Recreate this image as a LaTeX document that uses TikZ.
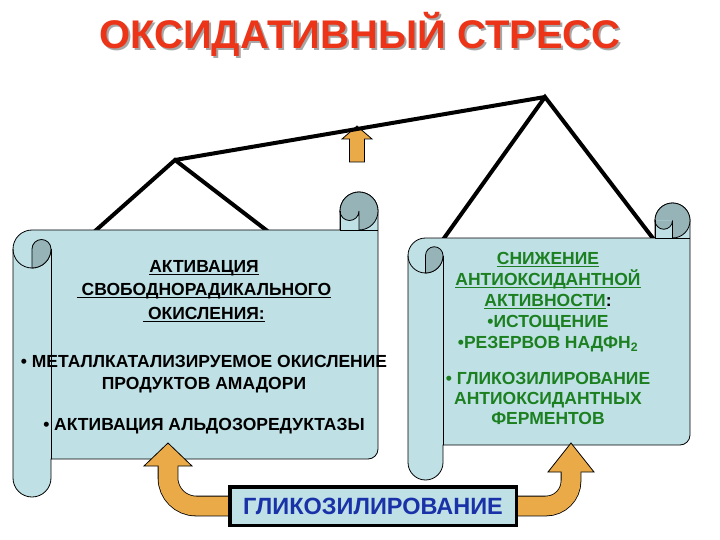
\documentclass[tikz,border=0pt]{standalone}
\usepackage{fontspec}
\setmainfont{Liberation Sans}
\definecolor{scrollblue}{RGB}{191,225,230}
\definecolor{rollgray}{RGB}{150,180,184}
\definecolor{titlered}{RGB}{236,52,24}
\definecolor{leafgreen}{RGB}{28,128,32}
\definecolor{boxblue}{RGB}{26,50,168}
\definecolor{arroworange}{RGB}{234,170,72}
\tikzset{
  hanger/.style={line width=4pt},
  scrollbody/.style={fill=scrollblue,draw=black,line width=0.8pt},
  rollpart/.style={fill=rollgray,draw=black,line width=0.8pt},
  arrowbody/.style={fill=arroworange,draw=black,line width=0.8pt},
  titletext/.style={font=\bfseries\fontsize{40}{48}\selectfont,inner sep=0pt,anchor=base},
  leftlist/.style={font=\bfseries\fontsize{17.5}{23.5}\selectfont,align=center,inner sep=0pt,anchor=north},
  rightlist/.style={font=\bfseries\fontsize{17.5}{21}\selectfont,align=center,inner sep=0pt,anchor=north,text=leafgreen}
}
\newcommand{\ulin}[1]{\setbox0\hbox{#1}\rlap{\rule[-2.6pt]{\wd0}{1.3pt}}\box0}
% l, r, top of sheet, bottom of sheet, bottom of roll, roll radius
\newcommand{\scrollshape}[6]{
  \filldraw[scrollbody] ({#1+#6},#3) -- ({#2-2*#6},#3) -- ({#2-2*#6},{#3-#6})
    arc[start angle=180,end angle=360,radius=#6] -- (#2,{#4-10})
    arc[start angle=0,end angle=90,radius=10] -- ({#1+2*#6},#4) -- ({#1+2*#6},{#5-#6})
    arc[start angle=0,end angle=180,radius=#6] -- (#1,{#3+#6})
    arc[start angle=180,end angle=270,radius=#6] -- cycle;
  \filldraw[rollpart] ({#2-#6},{#3-#6}) circle[radius=#6];
  \fill[scrollblue] ({#2-2*#6},{#3-#6}) rectangle ({#2-#6},#3);
  \fill[rollgray] ({#2-2*#6},{#3-#6}) arc[start angle=180,end angle=0,radius={#6/2}] -- cycle;
  \draw[line width=0.8pt] ({#2-2*#6},{#3-#6}) arc[start angle=180,end angle=0,radius={#6/2}] -- ({#2-#6},#3);
  \draw[line width=0.8pt] ({#2-2*#6},{#3-#6}) -- ({#2-2*#6},#3) -- (#2,#3);
  \draw[line width=0.8pt] (#1,{#3+#6}) arc[start angle=180,end angle=0,radius=#6];
  \filldraw[rollpart] ({#1+#6},{#3+2*#6}) -- ({#1+#6},{#3+#6})
    arc[start angle=180,end angle=360,radius={#6/2}]
    arc[start angle=0,end angle=90,radius=#6] -- cycle;
  \draw[line width=0.8pt] ({#1+2*#6},{#3+#6}) -- ({#1+2*#6},#4);
}
\begin{document}
\begin{tikzpicture}[x=1pt,y=-1pt]
  \useasboundingbox (0,0) rectangle (720,540);
  \node[titletext,text=black!35] (shadow) at (362,51) {ОКСИДАТИВНЫЙ СТРЕСС};
  \node[titletext,text=titlered] (title) at (360,49) {ОКСИДАТИВНЫЙ СТРЕСС};

  \filldraw[arrowbody] (357,126) -- (372,139) -- (364.5,139) -- (364.5,162)
    -- (349.5,162) -- (349.5,139) -- (342,139) -- cycle;

  \coordinate (peakL) at (175,160);
  \coordinate (peakR) at (545,97);
  \coordinate (hangLa) at (94,232);
  \coordinate (hangLb) at (270,233);
  \coordinate (hangRa) at (442,241);
  \coordinate (hangRb) at (655,241);
  \draw[hanger] (hangLa) -- (peakL) -- (hangLb);
  \draw[hanger] (peakL) -- (peakR);
  \draw[hanger] (hangRa) -- (peakR) -- (hangRb);

  \scrollshape{13}{378}{230}{459}{497}{19}
  \scrollshape{408}{690}{238}{445}{480}{17.5}

  \node[leftlist] (radical) at (204,260)
    {\ulin{АКТИВАЦИЯ}\\\ulin{\ СВОБОДНОРАДИКАЛЬНОГО}\\\ulin{\ ОКИСЛЕНИЯ:}};
  \node[leftlist,font=\bfseries\fontsize{17.5}{22}\selectfont] (amadori) at (204,355)
    {• МЕТАЛЛКАТАЛИЗИРУЕМОЕ ОКИСЛЕНИЕ\\ПРОДУКТОВ АМАДОРИ};
  \node[leftlist] (aldose) at (204,418) {• АКТИВАЦИЯ АЛЬДОЗОРЕДУКТАЗЫ};

  \node[rightlist] (antiox) at (548,252)
    {\ulin{СНИЖЕНИЕ}\\\ulin{АНТИОКСИДАНТНОЙ}\\\ulin{АКТИВНОСТИ}{\color{black}:}\\
     •ИСТОЩЕНИЕ\\•РЕЗЕРВОВ НАДФН\textsubscript{2}};
  \node[rightlist,font=\bfseries\fontsize{17.5}{20}\selectfont] (enzymes) at (548,372)
    {• ГЛИКОЗИЛИРОВАНИЕ\\АНТИОКСИДАНТНЫХ\\ФЕРМЕНТОВ};

  \node[draw,line width=3.5pt,fill=scrollblue,minimum width=286.5,minimum height=38.5,
    inner sep=0pt,text=boxblue,font=\bfseries\fontsize{23.5}{28}\selectfont]
    (glyc) at (373,506) {ГЛИКОЗИЛИРОВАНИЕ};

  \coordinate (baseL) at (168,466);
  \coordinate (baseR) at (571,472);
  \draw[line width=20.6pt,rounded corners=28] (glyc.west) -| (baseL);
  \draw[line width=20.6pt,rounded corners=25] (glyc.east) -| (baseR);
  \filldraw[arrowbody] (baseL) +(-24,0) -- +(0,-23) -- +(24,0) -- cycle;
  \filldraw[arrowbody] (baseR) +(-23,0) -- +(0,-29) -- +(23,0) -- cycle;
  \draw[arroworange,line width=19pt,rounded corners=28] (glyc.west) -| ([yshift=2pt]baseL);
  \draw[arroworange,line width=19pt,rounded corners=25] (glyc.east) -| ([yshift=2pt]baseR);
  \node[draw,line width=3.5pt,fill=scrollblue,minimum width=286.5,minimum height=38.5,
    inner sep=0pt,text=boxblue,font=\bfseries\fontsize{23.5}{28}\selectfont]
    at (glyc) {ГЛИКОЗИЛИРОВАНИЕ};
\end{tikzpicture}
\end{document}
